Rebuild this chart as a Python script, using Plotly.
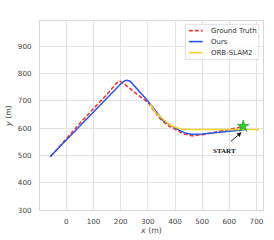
import plotly.graph_objects as go

# Ground truth trajectory
gt_x = [-57, 0, 50, 100, 150, 185, 197, 210, 250, 300, 340, 370, 400, 430, 465, 500, 547, 610, 648]
gt_y = [497, 563, 618, 672, 724, 766, 772, 765, 732, 695, 640, 612, 596, 580, 572, 576, 585, 598, 605]

# Ours
ours_x = [-60, 0, 100, 200, 215, 222, 235, 260, 300, 356, 400, 437, 460, 500, 550, 603, 654]
ours_y = [495, 557, 660, 762, 774, 776, 772, 745, 700, 628, 601, 582, 578, 579, 584, 589, 594]

# ORB-SLAM2
orb_x = [308, 330, 360, 385, 420, 460, 550, 650, 710]
orb_y = [688, 655, 630, 610, 597, 595, 595, 595, 595]

# Start point
start_x = [651]
start_y = [607]

x_ticks = [0, 100, 200, 300, 400, 500, 600, 700]
y_ticks = [300, 400, 500, 600, 700, 800, 900]

names = ["Ground Truth", "Ours", "ORB-SLAM2"]
colors = ["#f23a3a", "#2c55e6", "#f2d42c"]

fig = go.Figure()
fig.add_trace(go.Scatter(x=gt_x, y=gt_y, mode="lines", name=names[0],
                         line=dict(color=colors[0], width=1.6, dash="4px,2px"), showlegend=False))
fig.add_trace(go.Scatter(x=ours_x, y=ours_y, mode="lines", name=names[1],
                         line=dict(color=colors[1], width=1.5), showlegend=False))
fig.add_trace(go.Scatter(x=orb_x, y=orb_y, mode="lines", name=names[2],
                         line=dict(color=colors[2], width=1.6), showlegend=False))
fig.add_trace(go.Scatter(x=start_x, y=start_y, mode="markers", name="START",
                         marker=dict(symbol="star", size=9, color="#2ecc2e",
                                     line=dict(color="#1a8a1a", width=0.5)), showlegend=False))

# START annotation with arrow
fig.add_annotation(x=645, y=585, ax=600, ay=547, xref="x", yref="y", axref="x", ayref="y",
                   showarrow=True, arrowhead=2, arrowsize=1, arrowwidth=0.9, arrowcolor="#111111",
                   text="")
fig.add_annotation(x=581, y=516, xref="x", yref="y", text="<b>START</b>", showarrow=False,
                   font=dict(family="Liberation Serif", size=7, color="#111111"))

# Manual legend
fig.add_shape(type="rect", xref="paper", yref="paper", x0=0.652, x1=0.981, y0=0.797, y1=0.9825,
              line=dict(color="#d8d8d8", width=0.8), fillcolor="rgba(255,255,255,0.85)", layer="above")
leg_y = [0.949, 0.891, 0.833]
dashes = ["4px,2px", "solid", "solid"]
for i in range(3):
    fig.add_shape(type="line", xref="paper", yref="paper", x0=0.6675, x1=0.730, y0=leg_y[i], y1=leg_y[i],
                  line=dict(color=colors[i], width=1.6, dash=dashes[i]), layer="above")
    fig.add_annotation(xref="paper", yref="paper", x=0.757, y=leg_y[i], text=names[i], showarrow=False,
                       xanchor="left", yanchor="middle", font=dict(size=7, color="#333333"))

axis_common = dict(showgrid=True, gridcolor="#e2e2e2", gridwidth=1, showline=True, mirror=True,
                   linecolor="#d6d6d6", linewidth=1, zeroline=False, ticks="", automargin=False,
                   tickfont=dict(size=7.2, color="#444444"))

fig.update_xaxes(range=[-97, 724], tickvals=x_ticks, ticklabelstandoff=4,
                 title=dict(text="<i>x</i> (m)", font=dict(size=7.8, color="#444444"), standoff=2), **axis_common)
fig.update_yaxes(range=[300, 993], tickvals=y_ticks, ticklabelstandoff=6,
                 title=dict(text="<i>y</i> (m)", font=dict(size=7.8, color="#444444"), standoff=5), **axis_common)

fig.update_layout(width=274, height=240, margin=dict(l=40, r=11, t=21, b=30, autoexpand=False),
                  plot_bgcolor="white", paper_bgcolor="white",
                  font=dict(family="DejaVu Sans"))

fig.write_html("out.html", config={"displayModeBar": False},
               post_script="document.body.style.margin='0';")
